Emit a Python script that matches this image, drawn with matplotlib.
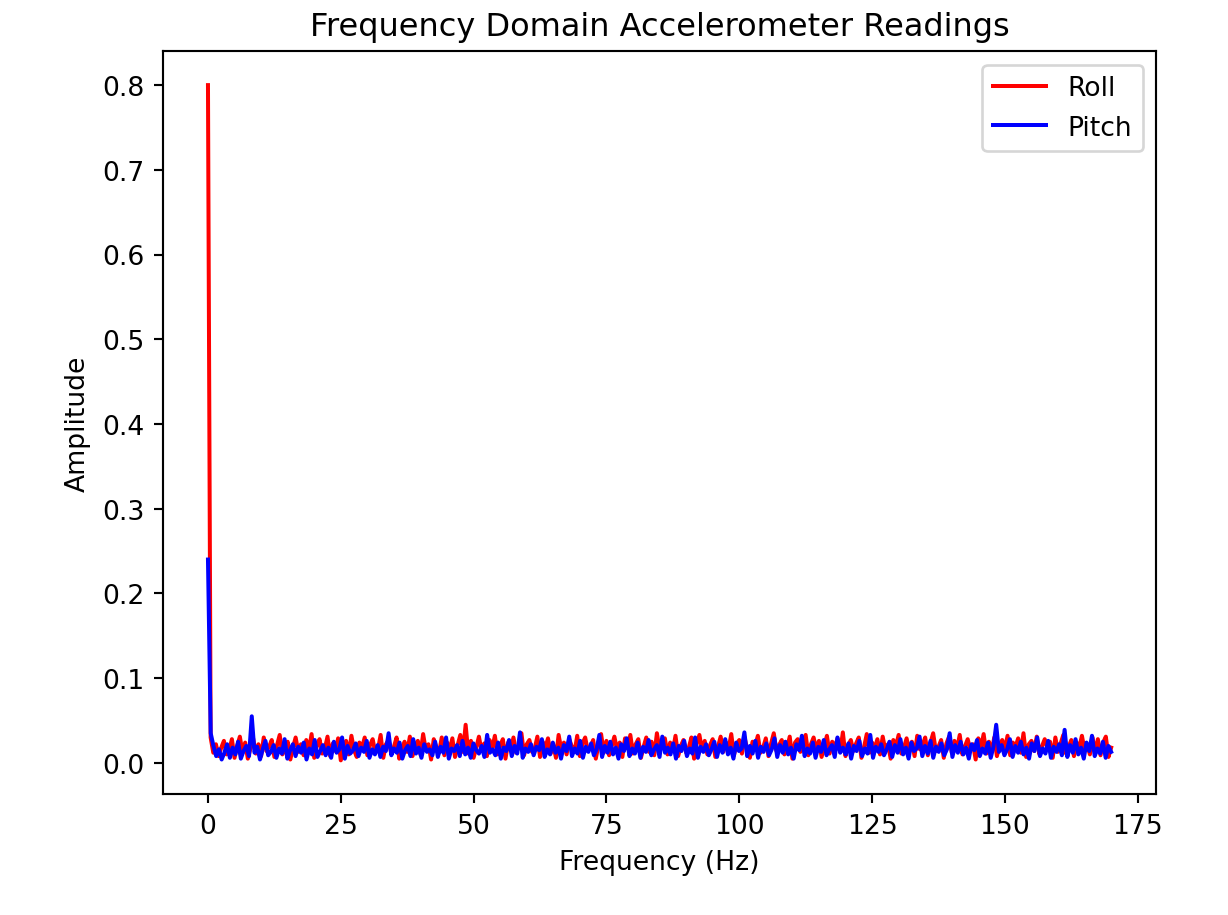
import matplotlib.pyplot as plt
import numpy as np

# amplitude spectrum, one bin every 0.5 Hz from 0 to 170 Hz
roll = [0.80, 0.030, 0.012, 0.022, 0.008, 0.018, 0.026, 0.010, 0.015, 0.028,
        0.006, 0.020, 0.031, 0.012, 0.024, 0.005, 0.017, 0.029, 0.011, 0.022,
        0.008, 0.030, 0.014, 0.019, 0.027, 0.007, 0.021, 0.033, 0.010, 0.016,
        0.025, 0.004, 0.018, 0.030, 0.013, 0.022, 0.009, 0.027, 0.015, 0.034,
        0.006, 0.020, 0.028, 0.011, 0.017, 0.031, 0.008, 0.023, 0.014, 0.029,
        0.003, 0.019, 0.026, 0.010, 0.032, 0.015, 0.007, 0.024, 0.018, 0.030,
        0.009, 0.021, 0.028, 0.012, 0.016, 0.033, 0.006, 0.022, 0.027, 0.011,
        0.019, 0.030, 0.005, 0.017, 0.025, 0.013, 0.031, 0.008, 0.020, 0.026,
        0.010, 0.034, 0.015, 0.022, 0.004, 0.028, 0.018, 0.012, 0.030, 0.009,
        0.024, 0.016, 0.029, 0.007, 0.021, 0.033, 0.013, 0.045, 0.011, 0.026,
        0.006, 0.018, 0.031, 0.014, 0.023, 0.008, 0.027, 0.017, 0.032, 0.010,
        0.020, 0.028, 0.005, 0.024, 0.015, 0.030, 0.012, 0.019, 0.035, 0.009,
        0.022, 0.027, 0.013, 0.017, 0.031, 0.007, 0.025, 0.018, 0.029, 0.011,
        0.021, 0.006, 0.033, 0.016, 0.024, 0.010, 0.028, 0.019, 0.013, 0.032,
        0.008, 0.023, 0.030, 0.014, 0.018, 0.027, 0.005, 0.021, 0.034, 0.012,
        0.026, 0.009, 0.020, 0.031, 0.015, 0.024, 0.007, 0.029, 0.017, 0.033,
        0.011, 0.022, 0.028, 0.006, 0.019, 0.030, 0.013, 0.025, 0.009, 0.035,
        0.016, 0.021, 0.029, 0.010, 0.024, 0.014, 0.032, 0.008, 0.020, 0.027,
        0.012, 0.018, 0.030, 0.005, 0.023, 0.033, 0.015, 0.026, 0.010, 0.021,
        0.028, 0.007, 0.019, 0.031, 0.013, 0.024, 0.017, 0.034, 0.009, 0.022,
        0.027, 0.011, 0.030, 0.016, 0.006, 0.025, 0.020, 0.032, 0.012, 0.018,
        0.029, 0.008, 0.023, 0.035, 0.014, 0.021, 0.027, 0.010, 0.017, 0.031,
        0.005, 0.024, 0.028, 0.013, 0.019, 0.033, 0.009, 0.022, 0.030, 0.015,
        0.026, 0.007, 0.020, 0.032, 0.011, 0.025, 0.018, 0.029, 0.013, 0.036,
        0.008, 0.021, 0.027, 0.014, 0.023, 0.030, 0.006, 0.019, 0.034, 0.012,
        0.024, 0.017, 0.028, 0.010, 0.031, 0.015, 0.022, 0.005, 0.027, 0.020,
        0.033, 0.011, 0.018, 0.029, 0.013, 0.025, 0.008, 0.032, 0.016, 0.021,
        0.030, 0.009, 0.024, 0.035, 0.014, 0.019, 0.027, 0.006, 0.023, 0.031,
        0.012, 0.026, 0.017, 0.033, 0.010, 0.020, 0.028, 0.015, 0.022, 0.004,
        0.029, 0.018, 0.034, 0.011, 0.025, 0.013, 0.030, 0.008, 0.021, 0.027,
        0.016, 0.032, 0.009, 0.024, 0.019, 0.029, 0.012, 0.035, 0.007, 0.022,
        0.026, 0.014, 0.031, 0.010, 0.020, 0.028, 0.017, 0.025, 0.006, 0.030,
        0.013, 0.023, 0.033, 0.011, 0.019, 0.027, 0.008, 0.024, 0.018, 0.032,
        0.015, 0.021, 0.010, 0.030, 0.012, 0.028, 0.009, 0.024, 0.031, 0.007,
        0.018]

pitch = [0.24, 0.035, 0.020, 0.008, 0.016, 0.004, 0.012, 0.022, 0.006, 0.018,
         0.010, 0.025, 0.005, 0.014, 0.020, 0.008, 0.055, 0.012, 0.019, 0.004,
         0.016, 0.026, 0.009, 0.013, 0.021, 0.006, 0.017, 0.011, 0.028, 0.005,
         0.015, 0.022, 0.008, 0.019, 0.012, 0.024, 0.004, 0.017, 0.010, 0.027,
         0.007, 0.014, 0.021, 0.009, 0.018, 0.006, 0.025, 0.012, 0.016, 0.030,
         0.005, 0.020, 0.011, 0.015, 0.023, 0.008, 0.018, 0.013, 0.026, 0.006,
         0.016, 0.010, 0.021, 0.007, 0.019, 0.014, 0.035, 0.009, 0.017, 0.012,
         0.024, 0.005, 0.015, 0.020, 0.008, 0.028, 0.011, 0.018, 0.006, 0.022,
         0.013, 0.016, 0.009, 0.025, 0.007, 0.019, 0.012, 0.030, 0.005, 0.017,
         0.014, 0.021, 0.008, 0.026, 0.010, 0.018, 0.006, 0.023, 0.015, 0.011,
         0.020, 0.007, 0.033, 0.012, 0.016, 0.009, 0.024, 0.005, 0.018, 0.014,
         0.027, 0.008, 0.020, 0.011, 0.036, 0.006, 0.017, 0.013, 0.022, 0.009,
         0.019, 0.015, 0.028, 0.007, 0.016, 0.010, 0.024, 0.012, 0.018, 0.005,
         0.021, 0.014, 0.031, 0.008, 0.017, 0.011, 0.026, 0.006, 0.019, 0.013,
         0.023, 0.009, 0.016, 0.033, 0.007, 0.020, 0.012, 0.025, 0.010, 0.018,
         0.005, 0.022, 0.014, 0.029, 0.008, 0.017, 0.011, 0.024, 0.006, 0.019,
         0.013, 0.027, 0.009, 0.016, 0.021, 0.007, 0.031, 0.012, 0.018, 0.010,
         0.023, 0.005, 0.020, 0.014, 0.026, 0.008, 0.017, 0.011, 0.030, 0.006,
         0.019, 0.013, 0.022, 0.009, 0.016, 0.025, 0.007, 0.021, 0.012, 0.028,
         0.010, 0.018, 0.005, 0.024, 0.014, 0.017, 0.036, 0.008, 0.020, 0.011,
         0.026, 0.006, 0.019, 0.013, 0.023, 0.009, 0.016, 0.029, 0.007, 0.021,
         0.012, 0.025, 0.010, 0.018, 0.005, 0.022, 0.015, 0.032, 0.008, 0.017,
         0.011, 0.024, 0.006, 0.019, 0.013, 0.027, 0.009, 0.016, 0.021, 0.007,
         0.030, 0.012, 0.018, 0.010, 0.023, 0.005, 0.020, 0.014, 0.026, 0.008,
         0.017, 0.011, 0.033, 0.006, 0.019, 0.013, 0.022, 0.009, 0.016, 0.025,
         0.007, 0.021, 0.012, 0.028, 0.010, 0.018, 0.005, 0.024, 0.014, 0.017,
         0.031, 0.008, 0.020, 0.011, 0.026, 0.006, 0.019, 0.013, 0.023, 0.009,
         0.016, 0.035, 0.007, 0.021, 0.012, 0.025, 0.010, 0.018, 0.005, 0.022,
         0.015, 0.027, 0.008, 0.017, 0.011, 0.024, 0.006, 0.019, 0.045, 0.013,
         0.021, 0.009, 0.016, 0.028, 0.007, 0.020, 0.012, 0.025, 0.010, 0.018,
         0.005, 0.023, 0.014, 0.030, 0.008, 0.017, 0.011, 0.026, 0.006, 0.019,
         0.013, 0.022, 0.009, 0.039, 0.007, 0.021, 0.012, 0.028, 0.010, 0.018,
         0.005, 0.024, 0.014, 0.032, 0.008, 0.017, 0.011, 0.025, 0.006, 0.020,
         0.013]

freq_roll = np.linspace(0, 170, len(roll))
freq_pitch = np.linspace(0, 170, len(pitch))

fig, ax = plt.subplots(figsize=(6.4, 4.77), dpi=192)
fig.subplots_adjust(left=0.1325, right=0.941, top=0.943, bottom=0.132)
ax.plot(freq_roll, roll, color='red', label='Roll')
ax.plot(freq_pitch, pitch, color='blue', label='Pitch')
ax.set_title('Frequency Domain Accelerometer Readings')
ax.set_xlabel('Frequency (Hz)')
ax.set_ylabel('Amplitude')
ax.legend()
fig.savefig('out.png')
